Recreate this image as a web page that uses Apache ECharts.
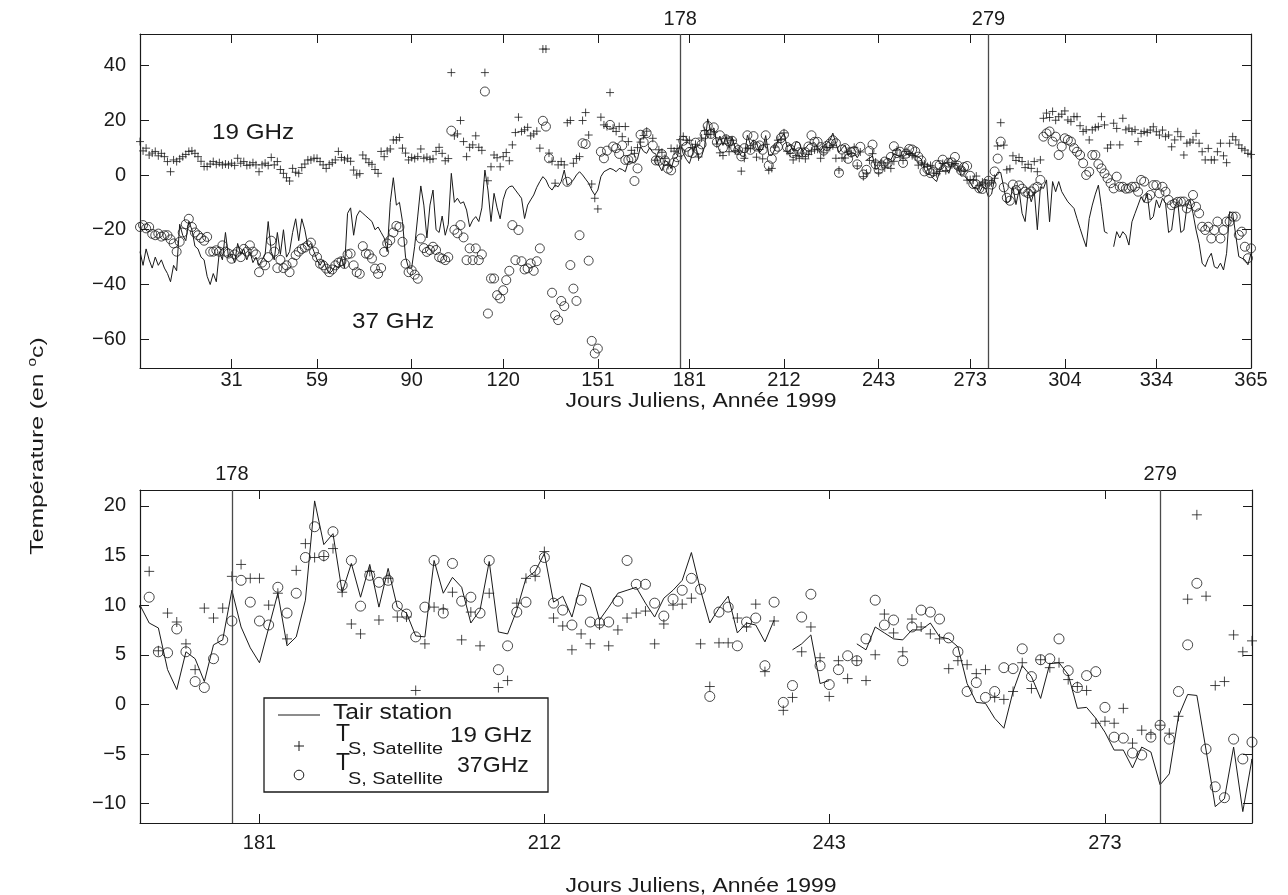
<!DOCTYPE html>
<html><head><meta charset="utf-8">
<script src="https://cdn.jsdelivr.net/npm/echarts@6/dist/echarts.min.js"></script>
<style>html,body{margin:0;padding:0;background:#fff}#c{width:1288px;height:895px}</style>
</head><body><div id="c"></div>
<script>
// ---- data (day of year 1..365) ----
const refDays = [178, 279];
const topXTicks = [31, 59, 90, 120, 151, 181, 212, 243, 273, 304, 334, 365];
const botXTicks = [181, 212, 243, 273];
const topYTicks = [-60, -40, -20, 0, 20, 40];
const botYTicks = [-10, -5, 0, 5, 10, 15, 20];

// Tair station (line), one value per day, null = missing
const tair = [
-28,-33,-27,-31,-34,-30,-33,-31,-34,-36,
-39,-33,-35,-18,-22,-24,-17,-20,-26,-27,
-30,-31,-37,-40,-36,-39,-28,-31,-21,-30,
-29,-32,-25,-29,-27,-31,-28,-32,-30,-33,
-31,-29,-17,-28,-31,-21,-29,-20,-30,-28,
-21,-16,-24,-16,-20,-26,-25,-28,-31,-33,
-31,-34,-36,-35,-33,-34,-30,-34,-14,-12,
-22,-15,-13,-14,-15,-16,-17,-20,-19,-21,
-23,-28,-10,-1,-11,-10,-17,-30,-34,-34,
-26,-15,-4,-11,-23,-11,-5.5,-20,-21,-15,
-22,-18,0.6,-10,-8.5,-10.4,-9.8,-12.8,-18.9,-16.5,
-15.2,-17,-12,1.8,-5.5,-17,-6.7,-12,-16,-9,
-5.5,-4.3,-4,-5.5,-7,-8.5,-15.9,-11,-9.1,-7.3,
-4.5,-2.4,-0.6,-1.8,-4.3,-5.5,-3.7,-4.3,-2.4,1.8,
-3.7,-3,-1.8,0,1.2,0,-1.5,-3,-5.5,-7.3,
-5.5,-0.6,1.2,1.8,2.4,2,1.2,2.4,2,1.2,
4.9,4.9,4.3,5.9,10.4,8.6,7.9,10,8.2,7.7,
3.5,1.5,5.3,4.6,2.3,6.0,6.5,11.5,7.8,5.7,
4.2,7.7,11.2,5.9,6.8,10.5,20.5,16.1,17.2,11.3,
14.2,10.8,14.1,9.8,13.7,9.8,9.2,6.9,6.8,14.5,
11.2,12.8,11.8,8.2,9.5,14.4,7.3,7.1,9.5,12.7,
13.4,15.2,10.3,10.9,8.8,12.2,11.8,8.5,9.8,11.2,
11.5,11.8,10.2,8.8,10.7,11.5,12.5,15.3,11.5,8.2,
9.7,10.9,7.2,8.2,8.0,6.3,8.5,null,5.5,6.1,
7.0,2.1,2.4,null,null,6.1,5.5,7.8,7.2,6.6,
6.5,7.5,7.5,8.2,6.8,6.6,5.8,2.1,0.2,0.1,
-1.4,-2.4,1.3,3.9,2.8,0.6,4.1,4.2,3.0,-0.4,
-0.3,-1.4,-2.8,-4.6,-4.6,-6.4,-4.3,-4.8,-8.1,-7.0,
-1.2,1.0,0.9,-4.6,-10.3,-9.5,-4.3,-10.8,-5.5,-14,
-17,-6,-9.8,-6,-20,-4.3,-4.9,-1.8,-17.1,-2.4,
-6.1,-2.4,-6.1,-8,-9.8,-11,-12.2,-15.9,-19.5,-23,
-26.2,-15.9,-11,-7,-3.7,-11.6,-20.7,-21.3,null,-26.2,
-20.7,-23,-20.7,-22,-25.6,-17.1,-14,-11,-7.9,-10,
-6.7,-16.4,-15.2,-9.1,-12,-8.5,-10.3,-21,-20.1,-11.6,
-9.7,-21,-20.1,-11.6,-9.1,-14,-20.1,-25,-32.2,-33.5,
-30.5,-28.6,-33.5,-34.1,-32.2,-34.7,-28.6,-13.4,-14,-22,
-29.8,-30.4,-31,-32.8,-28.6
];

// T_S satellite 19 GHz (+)
const t19 = [
12.2,8.8,9.8,7.3,8.0,8.6,7.0,7.9,6.7,4.9,
1.2,5.5,4.9,5.9,6.7,7.5,8.6,8.8,7.9,6.7,
5.0,3.1,3.1,4.0,4.9,3.9,4.5,3.7,4.0,3.7,
4.3,3.5,6.1,4.3,4.9,3.5,3.7,4.5,3.7,1.2,
3.7,4.3,3.5,6.4,3.7,4.9,2.0,0.6,-1.0,-2.2,
2.4,1.0,0.6,2.7,4.0,5.5,5.5,6.1,6.1,4.9,
3.7,2.4,3.9,4.5,5.5,8.6,6.4,5.5,6.1,5.0,
1.8,0,0.5,7.3,5.9,4.5,3.9,2.0,0.6,8.6,
6.7,8.8,9.5,12.8,12.8,13.7,9.8,8,5.5,6.4,
6.0,6.7,9.5,6.1,6.5,5.7,5.9,8.6,10.1,7.9,
5.2,6,37.4,14.3,15,19.9,12.2,6.7,10.1,11,
14.3,10.1,9,37.4,-2.1,3,7.3,6.3,3,6.7,
8.2,5.2,11,15.5,21.1,15.9,16.5,17.4,14.3,15,
16,9.8,46,46,8,5,-3,3.7,4.9,3.7,
19.1,19.9,4.3,6,6.7,19.9,22.8,14.6,-3.3,-8.5,
-12.4,21.1,18.3,17.7,30.1,17.1,15.9,17.7,14,17.7,
12.2,9,7.9,10,12,14.4,16,null,13.4,5.4,
9.2,8.3,6.1,3.5,9.7,8.7,9.7,12.9,14.1,12.7,
12.7,10.0,11.2,6.6,13.5,16.2,14.8,14.9,15.7,11.3,
8.1,7.1,13.4,8.5,12.7,8.8,8.8,1.4,6.1,9.8,
9.6,11.3,6.5,9.3,5.9,11.2,1.7,2.4,10.2,12.7,
12.9,15.4,8.7,7.9,5.5,7.1,6.1,8.0,5.9,7.5,
8.7,9.2,9.4,6.1,8.1,10.0,10.1,10.7,6.1,1.8,
6.2,6.2,8.7,7.8,10.1,3.3,8.4,-0.6,0.7,5.3,
7.8,4.7,0.8,4.4,2.6,4.4,2.4,5.0,9.1,7.2,
5.3,8.6,7.8,7.1,6.6,3.6,4.4,4.0,3.1,3.5,
0.7,0.5,1.3,4.2,1.6,4.5,3.7,4.2,2.5,1.8,
1.4,-1.9,-1.7,-1.9,-0.4,-3.9,-2.6,-3.0,-2.1,-2.9,
-1.2,10.6,19.1,10.9,1.9,2.3,7.0,5.3,6.4,4.9,
2.7,3.9,2.4,4.9,1.2,5.5,20.7,22.6,21,23.2,
20,21.3,22.2,23.4,20.1,19.5,21.3,21.3,18,15.9,
16.5,12.8,16.5,17.3,17.7,21.3,18.3,9.8,11,18.9,
17,11,20.7,16.5,17.1,15.9,16.5,12.2,15.2,15.9,
15.5,16.4,17.6,15.8,14.6,16.4,14,14.6,10.3,12.8,
15.8,14,7.3,11.6,12,12.8,15.2,11.6,8.5,5.5,
9.7,5.5,5.5,8.5,11.6,7,4.5,11.6,14,12.8,
11,9.7,9.1,7.9,7.5
];

// T_S satellite 37 GHz (o)
const t37 = [
-19,-18.3,-19.5,-19,-21.5,-22,-21.4,-22.5,-22,-22,
-23.5,-25,-28,-24.4,-21,-18,-16,-19,-21,-22,
-23,-24,-22.6,-28,-28,-27.5,-28,-25.7,-28,-28.7,
-30.6,-29,-28,-30,-27,-28,-25.7,-28,-29,-35.5,
-32,-33,-30,-24,-28,-34,-31,-34,-33,-35.5,
-32,-29.3,-28,-27,-26.5,-25.7,-24.7,-28,-30,-32.4,
-33,-34.2,-35.5,-34.5,-33,-32,-31.5,-32.5,-29,-28.7,
-33,-35.5,-36.1,-26,-28.7,-29,-30.5,-34.2,-36.1,-34,
-28.1,-25,-23.8,-21,-18.6,-19,-24.4,-32.4,-35.5,-34.8,
-36.4,-37.9,-23.2,-26.7,-28.1,-27.4,-26.2,-27.4,-30,-30.5,
-31.1,-30,16.2,-20,-21.3,-18.3,-22.8,-31.1,-26.8,-31.1,
-26.8,-31.1,-29,30.5,-50.6,-37.8,-37.8,-43.9,-45.1,-42.1,
-38.4,-35,-18.3,-31.1,-20.1,-31.5,-34.5,-34.1,-32.3,-35,
-31.5,-26.8,19.8,17.7,6.1,-43,-51.2,-53,-46,-47.9,
-2.5,-32.9,-41.5,-46,-22,11.6,11.3,-31.3,-60.6,-65.2,
-63.4,8.5,6.1,8.9,18.3,10.4,9.8,7.7,10.8,5.5,
5.5,6,-2.2,2.4,14.7,12,15.3,null,10.8,5.3,
5.2,7.6,5.3,2.3,1.7,4.6,6.5,8.4,12.5,10.3,
8.4,8.0,11.8,9.2,11.2,14.8,17.9,15.0,17.4,12.0,
14.5,9.9,13.0,12.3,12.5,9.9,9.1,6.8,9.8,14.5,
9.2,14.2,10.4,10.8,9.2,14.5,3.5,5.9,9.3,10.3,
13.5,14.8,10.2,9.5,8.0,10.5,8.3,8.2,8.3,10.4,
14.5,12.1,12.1,10.2,8.9,10.6,11.5,12.7,11.6,0.8,
9.3,9.8,5.9,8.3,8.7,3.9,10.3,0.2,1.9,8.8,
11.1,3.9,2.0,3.5,4.9,4.4,6.6,10.5,8.0,8.5,
4.4,7.8,9.5,9.3,8.6,6.7,5.3,1.3,2.2,0.7,
1.3,3.7,3.6,5.6,2.8,4.5,4.6,6.6,3.4,1.7,
2.9,3.3,-0.3,-3.3,-3.4,-4.9,-5.1,-3.3,-2.1,-3.5,
1.3,6.0,12.2,-4.5,-8.3,-9.4,-3.5,-5.5,-3.8,-5,
-6.1,-6.7,-6,-4.9,-4.3,-1.8,14,15.2,15.9,12.2,
14,7.3,10.4,13.4,12.8,12.2,9.8,8.5,7.3,4.3,
0,1.2,7.3,7.3,4,2.4,0.6,-1.2,-3,-4.9,
-0.6,-4.3,-4.3,-5,-4.9,-4.3,-4.3,-6.1,-1.8,-2.4,
-8.5,-7.3,-3.7,-3.7,-6.7,-4.3,-6.1,-9.1,-11,-10.4,
-9.8,-9.7,-9.7,-12.2,-10.6,-7.3,-11.6,-14,-18.9,-20.1,
-18.9,-23.2,-20.1,-17,-23.2,-20.1,-17,-17,-15.2,-15.2,
-21.9,-20.7,-26.2,-30.4,-26.8
];

const xTitle = 'Jours Juliens, Année 1999';
const yTitle = 'Température (en {s|o}c)';

// ---- chart ----
const FONT = 'Liberation Sans, Arial, Helvetica, sans-serif';
const INK = '#1a1a1a';
const days = tair.map((_, i) => i + 1);
const linePts = tair.map((v, i) => [days[i], v]);
const pts19 = t19.map((v, i) => [days[i], v]).filter(p => p[1] !== null);
const pts37 = t37.map((v, i) => [days[i], v]).filter(p => p[1] !== null);
const minus = v => String(v).replace('-', '\u2212');
const PLUS = 'path://M5,0L5,10M0,5L10,5';

function xAx(grid, pos, min, max, ticks, labels, margin) {
  return {
    type: 'value', gridIndex: grid, position: pos, min: min, max: max,
    axisLine: { show: true, onZero: false, lineStyle: { color: INK, width: 1.2 } },
    axisTick: { show: true, inside: true, length: 9, customValues: ticks, lineStyle: { color: INK, width: 1 } },
    axisLabel: { show: true, customValues: labels, margin: margin, fontSize: 20, color: INK, fontFamily: FONT },
    splitLine: { show: false }
  };
}
function yAx(grid, pos, min, max, ticks, showLabels) {
  return {
    type: 'value', gridIndex: grid, position: pos, min: min, max: max,
    axisLine: { show: true, onZero: false, lineStyle: { color: INK, width: 1.2 } },
    axisTick: { show: true, inside: true, length: 9, customValues: ticks, lineStyle: { color: INK, width: 1 } },
    axisLabel: { show: showLabels, customValues: ticks, margin: 14, fontSize: 20, color: INK, fontFamily: FONT, formatter: minus },
    splitLine: { show: false }
  };
}

function seriesFor(grid, plusSize, circSize) {
  return [
    {
      type: 'line', xAxisIndex: grid * 2, yAxisIndex: grid * 2, data: linePts,
      showSymbol: false, symbol: 'none', connectNulls: false, clip: true,
      lineStyle: { color: INK, width: 1 }, silent: true,
      markLine: {
        silent: true, symbol: ['none', 'none'], label: { show: false },
        lineStyle: { color: '#4a4a4a', width: 1.3, type: 'solid' },
        data: refDays.map(d => ({ xAxis: d }))
      }
    },
    {
      type: 'scatter', xAxisIndex: grid * 2, yAxisIndex: grid * 2, data: pts19,
      symbol: PLUS, symbolSize: plusSize, clip: true, silent: true,
      itemStyle: { color: 'rgba(0,0,0,0)', borderColor: INK, borderWidth: 1 }
    },
    {
      type: 'scatter', xAxisIndex: grid * 2, yAxisIndex: grid * 2, data: pts37,
      symbol: 'circle', symbolSize: circSize, clip: true, silent: true,
      itemStyle: { color: 'rgba(0,0,0,0)', borderColor: INK, borderWidth: 1 }
    }
  ];
}

function txt(x, y, text, size, sx, extra) {
  return Object.assign({ type: 'text', x: x, y: y, scaleX: sx || 1, z: 101,
    style: { text: text, fontSize: size, fontFamily: FONT, fill: INK, verticalAlign: 'middle' } }, extra || {});
}

const chart = echarts.init(document.getElementById('c'), null, { renderer: 'canvas' });
chart.setOption({
  animation: false,
  backgroundColor: '#fff',
  grid: [
    { left: 140, top: 34, width: 1111, height: 334 },
    { left: 140, top: 490, width: 1112, height: 333 }
  ],
  xAxis: [
    xAx(0, 'bottom', 1, 365, topXTicks, topXTicks, 2),
    xAx(0, 'top', 1, 365, topXTicks, refDays, 5),
    xAx(1, 'bottom', 168, 289, botXTicks, botXTicks, 10),
    xAx(1, 'top', 168, 289, botXTicks, refDays, 6)
  ],
  yAxis: [
    yAx(0, 'left', -70.5, 51.5, topYTicks, true),
    yAx(0, 'right', -70.5, 51.5, topYTicks, false),
    yAx(1, 'left', -11.95, 21.6, botYTicks, true),
    yAx(1, 'right', -11.95, 21.6, botYTicks, false)
  ],
  series: [].concat(seriesFor(0, 8, 9), seriesFor(1, 10, 10)),
  graphic: [
    txt(212, 133, '19 GHz', 22, 1.1),
    txt(352, 322, '37 GHz', 22, 1.1),
    // axis titles
    { type: 'text', x: 701, y: 401, scaleX: 1.15, style: { text: xTitle, fontSize: 20, fontFamily: FONT, fill: INK, align: 'center', verticalAlign: 'middle' } },
    { type: 'text', x: 701, y: 886, scaleX: 1.15, style: { text: xTitle, fontSize: 20, fontFamily: FONT, fill: INK, align: 'center', verticalAlign: 'middle' } },
    { type: 'text', x: 38, y: 446, rotation: Math.PI / 2, scaleX: 1.3,
      style: { text: yTitle, fontSize: 19, fontFamily: FONT, fill: INK, align: 'center', verticalAlign: 'middle',
        rich: { s: { fontSize: 12, fontFamily: FONT, fill: INK, padding: [0, 0, 10, 0] } } } },
    // legend box
    { type: 'rect', shape: { x: 264, y: 698, width: 284, height: 94 }, style: { fill: '#fff', stroke: INK, lineWidth: 1.3 }, z: 100 },
    { type: 'line', shape: { x1: 278, y1: 715, x2: 320, y2: 715 }, style: { stroke: INK, lineWidth: 1 }, z: 101 },
    txt(333, 713, 'Tair station', 22, 1.12),
    { type: 'line', shape: { x1: 294, y1: 746, x2: 304, y2: 746 }, style: { stroke: INK, lineWidth: 1 }, z: 101 },
    { type: 'line', shape: { x1: 299, y1: 741, x2: 299, y2: 751 }, style: { stroke: INK, lineWidth: 1 }, z: 101 },
    txt(336, 735, 'T', 23, 1),
    txt(348, 749, 'S, Satellite', 17, 1.17),
    txt(450, 736, '19 GHz', 22, 1.1),
    { type: 'circle', shape: { cx: 299, cy: 775, r: 4.8 }, style: { fill: 'none', stroke: INK, lineWidth: 1 }, z: 101 },
    txt(336, 764, 'T', 23, 1),
    txt(348, 779, 'S, Satellite', 17, 1.17),
    txt(457, 766, '37GHz', 22, 1.05)
  ]
});
</script>
</body></html>
